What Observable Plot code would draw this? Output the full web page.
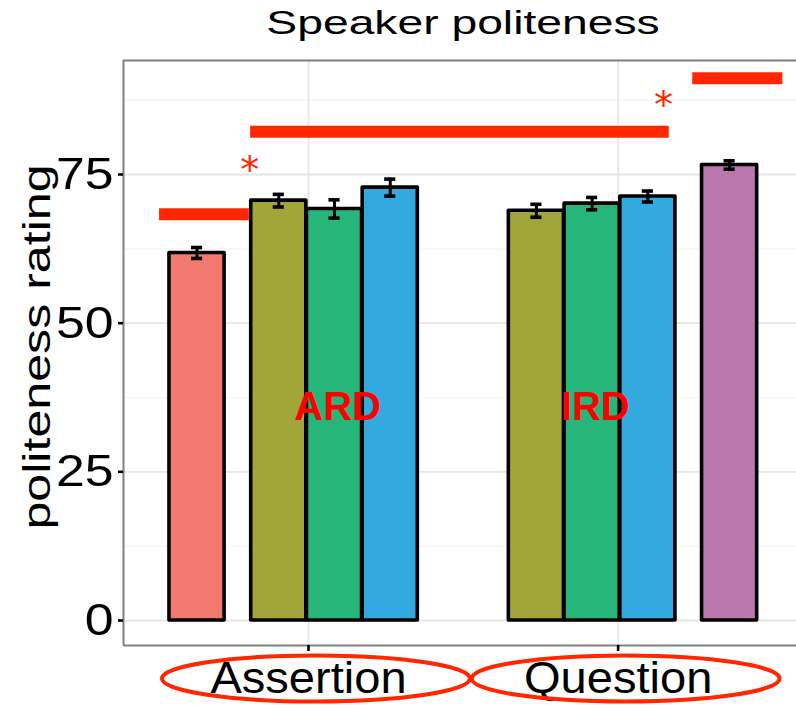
<!DOCTYPE html>
<html>
<head>
<meta charset="utf-8">
<script src="https://cdn.jsdelivr.net/npm/d3@7"></script>
<script src="https://cdn.jsdelivr.net/npm/@observablehq/plot@0.6"></script>
<style>
  html, body { margin: 0; padding: 0; background: white; }
  body { width: 796px; height: 705px; overflow: hidden; font-family: "Liberation Sans", Arial, sans-serif; }
  #title { position: relative; height: 50px; width: 796px; }
  #title span { position: absolute; left: 463px; top: 0; line-height: 45px; font-size: 34px; white-space: nowrap;
    transform: translateX(-50%) scaleX(1.36); color: #000; }
  svg { display: block; }
</style>
</head>
<body>
<div id="title"><span>Speaker politeness</span></div>
<div id="chart"></div>
<script>
// ---- data ----
const sentenceTypes = ["Assertion", "Question"];
const levels = ["L1", "L2", "L3", "L4", "L5"];
const levelColors = ["#F27970", "#A2A539", "#27B67A", "#32AADF", "#BC77AE"];

const barType    = ["Assertion", "Assertion", "Assertion", "Assertion", "Question", "Question", "Question", "Question"];
const barLevel   = ["L1", "L2", "L3", "L4", "L2", "L3", "L4", "L5"];
const barCluster = ["none", "ARD", "ARD", "ARD", "IRD", "IRD", "IRD", "none"];
const barMean    = [61.8, 70.6, 69.2, 72.8, 68.9, 70.1, 71.3, 76.6];
const barSE      = [0.92, 1.06, 1.54, 1.43, 1.09, 1.04, 0.92, 0.71];

const yTicks = [0, 25, 50, 75];
const yMinor = [12.5, 37.5, 62.5, 87.5];
const yLabel = "politeness rating";

const clusterNames = ["ARD", "IRD"];
const clusterLabelY = [35.9, 35.9];

// significance annotations (data units)
const sigX1 = [0.519, 0.813, 2.241];
const sigX2 = [0.809, 2.165, 2.532];
const sigY  = [68.3, 82.2, 91.2];
const starX = [0.8165, 2.153];
const starY = [76.5, 87.4];

// ---- layout rules ----
const dodgeWidth = 0.9, nSlots = levels.length, slotW = dodgeWidth / nSlots;
const barWidth = 0.178;
const clusterShift = {none: 0, ARD: 0.084, IRD: -0.084};
const capHalf = 0.018;
const red = "#FF2600";

const bars = barType.map((t, i) => {
  const slot = levels.indexOf(barLevel[i]);
  const c = sentenceTypes.indexOf(t) + 1 + (slot - (nSlots - 1) / 2) * slotW + clusterShift[barCluster[i]];
  return {type: t, level: barLevel[i], cluster: barCluster[i], mean: barMean[i], se: barSE[i], cx: c};
});
const clusters = clusterNames.map((n, i) => {
  const bs = bars.filter(b => b.cluster === n);
  return {name: n, x: d3.mean(bs, b => b.cx) + 0.01, y: clusterLabelY[i]};
});
const sig = sigX1.map((x1, i) => ({x1, x2: sigX2[i], y: sigY[i]}));
const stars = starX.map((x, i) => ({x, y: starY[i]}));

const k = 0.5523;
const ellipse = {
  draw(ctx) {
    const rx = 154, ry = 23;
    ctx.moveTo(rx, 0);
    ctx.bezierCurveTo(rx, ry * k, rx * k, ry, 0, ry);
    ctx.bezierCurveTo(-rx * k, ry, -rx, ry * k, -rx, 0);
    ctx.bezierCurveTo(-rx, -ry * k, -rx * k, -ry, 0, -ry);
    ctx.bezierCurveTo(rx * k, -ry, rx, -ry * k, rx, 0);
    ctx.closePath();
  }
};

const xDomain = [0.4025, 2.576];
const yDomain = [-4.2, 94.17];

const chart = Plot.plot({
  width: 796,
  height: 655,
  marginLeft: 123,
  marginRight: 0,
  marginTop: 10,
  marginBottom: 60,
  x: {domain: xDomain, axis: null},
  y: {domain: yDomain, axis: null},
  color: {domain: levels, range: levelColors},
  style: {fontFamily: "Liberation Sans, Arial, sans-serif", background: "white", color: "black", overflow: "visible"},
  marks: [
    Plot.ruleY(yMinor, {stroke: "#f4f4f4", strokeWidth: 1.2}),
    Plot.ruleY(yTicks, {stroke: "#e6e6e6", strokeWidth: 1.8}),
    Plot.ruleX([1, 2], {stroke: "#e6e6e6", strokeWidth: 1.8}),
    Plot.rectY(bars, {x1: d => d.cx - barWidth / 2, x2: d => d.cx + barWidth / 2, y1: 0, y2: "mean",
      fill: "level", stroke: "black", strokeWidth: 3.6, strokeLinejoin: "round"}),
    Plot.ruleX(bars, {x: "cx", y1: d => d.mean - d.se, y2: d => d.mean + d.se, stroke: "black", strokeWidth: 3}),
    Plot.ruleY(bars, {x1: d => d.cx - capHalf, x2: d => d.cx + capHalf, y: d => d.mean - d.se, stroke: "black", strokeWidth: 3.6}),
    Plot.ruleY(bars, {x1: d => d.cx - capHalf, x2: d => d.cx + capHalf, y: d => d.mean + d.se, stroke: "black", strokeWidth: 3.6}),
    // panel border (left, top, bottom)
    Plot.ruleX([xDomain[0]], {stroke: "#808080", strokeWidth: 2}),
    Plot.ruleY([yDomain[0], yDomain[1]], {stroke: "#808080", strokeWidth: 2}),
    Plot.axisY({ticks: yTicks, tickSize: 5, tickPadding: 5, fontSize: 45, strokeWidth: 2.6, label: null}),
    Plot.axisX({ticks: [1, 2], tickFormat: d => sentenceTypes[d - 1], tickSize: 6, tickPadding: 10, fontSize: 44,
      strokeWidth: 2.6, label: null}),
    Plot.text([yLabel], {frameAnchor: "left", dx: -86, dy: -6, rotate: -90, fontSize: 38, fill: "black",
      textAnchor: "middle"}),
    // annotations
    Plot.ruleY(sig, {x1: "x1", x2: "x2", y: "y", stroke: red, strokeWidth: 12}),
    Plot.text(stars, {x: "x", y: "y", text: () => "*", fill: red, fontSize: 38, dy: 5, dx: -2, fontFamily: "DejaVu Sans"}),
    Plot.text(clusters, {x: "x", y: "y", text: "name", fill: "#FF0000", fontSize: 40, fontWeight: "bold"}),
    Plot.dot(sentenceTypes, {x: (d, i) => i + 1 + 0.024, frameAnchor: "bottom", dy: 33, r: 5, symbol: ellipse,
      stroke: red, strokeWidth: 4, fill: "none"})
  ]
});
document.getElementById("chart").append(chart);

// widen glyphs along the text line, keeping the text anchor in place (scale about the anchor point)
function stretchEl(el, f) {
  const t = el.getAttribute("transform") || "";
  el.setAttribute("transform", (t + ` scale(${f},1)`).trim());
}
chart.querySelectorAll('g[aria-label="y-axis tick label"] text').forEach(el => stretchEl(el, 1.15));
chart.querySelectorAll('g[aria-label="x-axis tick label"] text').forEach(el => stretchEl(el, 1.07));
chart.querySelectorAll("text").forEach(el => { if (el.textContent === yLabel) stretchEl(el, 1.32); });
</script>
</body>
</html>
